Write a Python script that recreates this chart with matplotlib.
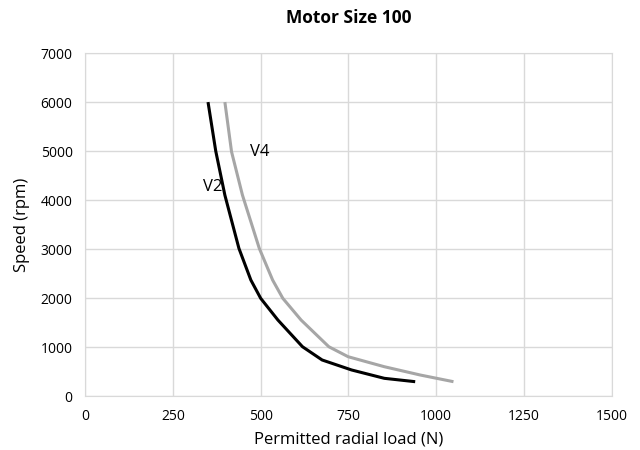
#!/usr/bin/env python3
import matplotlib
matplotlib.use("Agg")
import matplotlib.pyplot as plt

# permitted radial load (N) vs speed (rpm)
v2_load = [350, 372, 398, 438, 472, 500, 549, 619, 675, 759, 852, 940]
v2_speed = [6000, 5000, 4100, 3014, 2367, 1994, 1551, 1006, 735, 531, 361, 292]

v4_load = [398, 417, 448, 496, 534, 563, 615, 694, 749, 852, 954, 1049]
v4_speed = [6000, 4986, 4102, 3014, 2367, 1994, 1551, 1006, 802, 598, 429, 292]

x_ticks = [0, 250, 500, 750, 1000, 1250, 1500]
y_ticks = [0, 1000, 2000, 3000, 4000, 5000, 6000, 7000]

plt.rcParams['font.family'] = ['Open Sans', 'DejaVu Sans']

fig = plt.figure(figsize=(6.4, 4.5), dpi=100)
ax = fig.add_axes([0.133, 0.12, 0.823, 0.762])

ax.plot(v2_load, v2_speed, color='black', lw=2.2,
        solid_joinstyle='round', solid_capstyle='butt')
ax.plot(v4_load, v4_speed, color='#a6a6a6', lw=2.2,
        solid_joinstyle='round', solid_capstyle='butt')

ax.text(363, 4265, 'V2', fontsize=12, ha='center', va='center')
ax.text(497, 4980, 'V4', fontsize=12, ha='center', va='center')

ax.set_xlim(0, 1500)
ax.set_ylim(0, 7000)
ax.set_xticks(x_ticks)
ax.set_yticks(y_ticks)
ax.grid(color='#d9d9d9', lw=1)
ax.set_axisbelow(True)
for s in ax.spines.values():
    s.set_color('#d9d9d9')
ax.tick_params(length=0, labelsize=10, pad=9)

ax.set_title('Motor Size 100', fontsize=12.5, fontweight='bold', pad=22)
ax.set_xlabel('Permitted radial load (N)', fontsize=12, labelpad=6)
ax.set_ylabel('Speed (rpm)', fontsize=12, labelpad=8)

fig.savefig('out.png')
